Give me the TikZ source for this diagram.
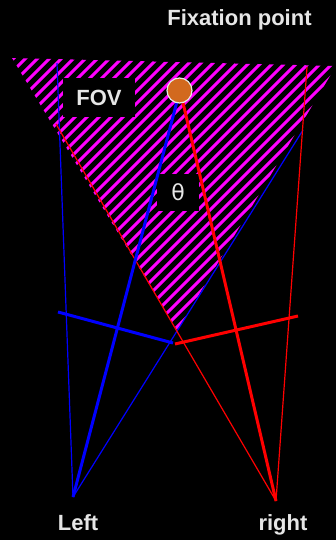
\documentclass[tikz,border=0pt]{standalone}
\usepackage{fontspec}
\setmainfont{Liberation Sans}
\newfontfamily\dejavu{DejaVu Sans}
\definecolor{labelgray}{HTML}{E6E6E6}
\definecolor{fixorange}{HTML}{D2691E}
\definecolor{hatchmag}{HTML}{FF00FF}
\begin{document}
\begin{tikzpicture}[x=1pt,y=-1pt,
  thinray/.style={line width=1.2pt},
  thickray/.style={line width=3pt},
  bar/.style={line width=3pt},
  lbl/.style={text=labelgray,font=\bfseries\fontsize{22}{24}\selectfont,inner sep=0pt},
  blackbox/.style={fill=black,inner sep=0pt,text=labelgray}]
\fill[black] (0,0) rectangle (336,540);
\useasboundingbox (0,0) rectangle (336,540);
% coordinates
\coordinate (L) at (73,497);
\coordinate (R) at (276,501);
\coordinate (F) at (180,90);
\coordinate (tl) at (12,58);
\coordinate (tr) at (336,66);
\coordinate (apex) at (177.3,330.7);
\coordinate (bl1) at (57,63);
\coordinate (bl2) at (303,130);
\coordinate (rd1) at (56,124);
\coordinate (rd2) at (307,67);
\coordinate (cb1) at (58,312);
\coordinate (cb2) at (173,343);
\coordinate (cr1) at (175,344);
\coordinate (cr2) at (298,316);
% hatched FOV
\begin{scope}
\clip (tl) -- (tr) -- (apex) -- cycle;
\foreach \i in {0,...,62}
  \draw[hatchmag,line width=3pt] ({-400+12*\i},400) -- ({12*\i},0);
\end{scope}
% boxes
\node[blackbox,minimum width=72pt,minimum height=39pt,font=\bfseries\fontsize{22}{24}\selectfont] (fov) at (99,97.5) {FOV};
\node[blackbox,minimum width=42pt,minimum height=37pt,font=\dejavu\fontsize{22}{24}\selectfont] (theta) at (178,192.5) {θ};
% rays
\draw[blue,thinray] (L) -- (bl1);
\draw[blue,thinray] (L) -- (bl2);
\draw[red,thinray] (R) -- (rd1);
\draw[red,thinray] (R) -- (rd2);
\draw[blue,thickray] (L) -- (F);
\draw[red,thickray] (R) -- (F);
% image planes
\draw[blue,bar] (cb1) -- (cb2);
\draw[red,bar] (cr1) -- (cr2);
% fixation point
\node[circle,fill=fixorange,draw=labelgray,line width=1.2pt,minimum size=25pt,inner sep=0pt] (fix) at (179.5,90.5) {};
% labels
\node[lbl,anchor=base] (fixlbl) at (239.5,26) {Fixation point};
\node[lbl,anchor=base] (leftlbl) at (78,530) {Left};
\node[lbl,anchor=base] (rightlbl) at (283,530) {right};
\end{tikzpicture}
\end{document}
